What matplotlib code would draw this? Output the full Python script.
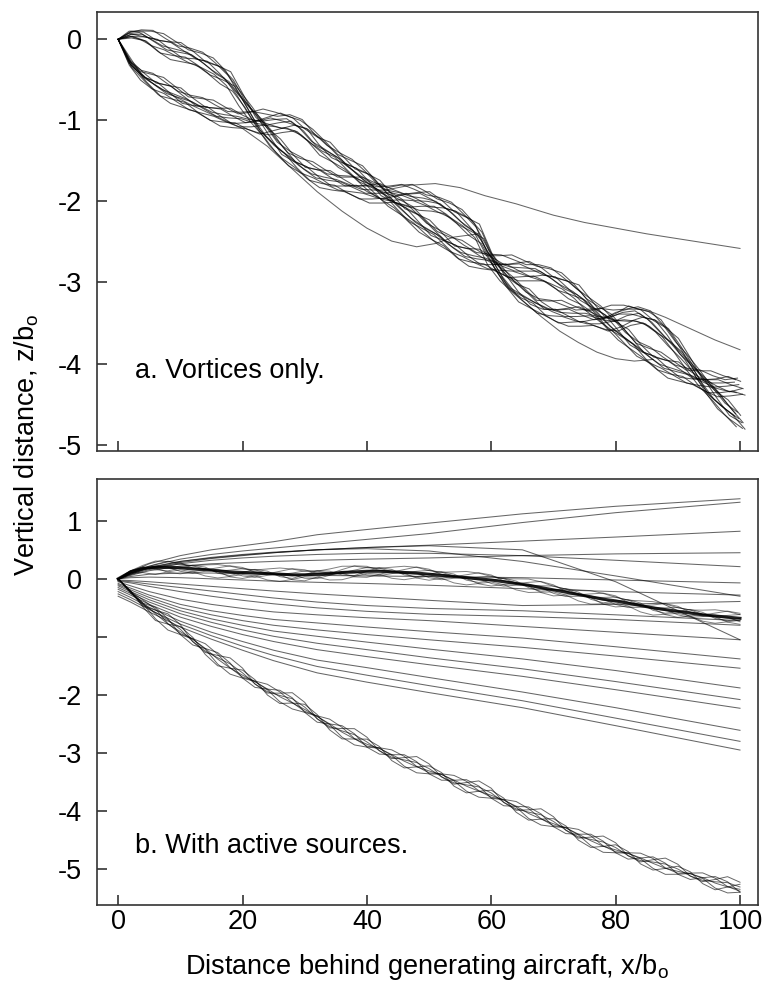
import numpy as np
import matplotlib
matplotlib.use("Agg")
import matplotlib.pyplot as plt

plt.rcParams['font.family'] = ['Liberation Sans', 'DejaVu Sans']
plt.rcParams['mathtext.fontset'] = 'custom'
plt.rcParams['mathtext.rm'] = 'Liberation Sans'
plt.rcParams['mathtext.it'] = 'Liberation Sans'

# ---------------- data ----------------
X_GRID = np.arange(0, 101, 2)

# panel a: two braided vortex strands (centre paths)
STRAND_A = [0.00, 0.06, 0.05, -0.02, -0.09, -0.15, -0.21, -0.29, -0.39, -0.51,
            -0.74, -0.97, -1.16, -1.34, -1.48, -1.59, -1.67, -1.73, -1.78, -1.82,
            -1.86, -1.89, -1.91, -1.92, -1.95, -1.99, -2.05, -2.14, -2.26, -2.39,
            -2.70, -2.92, -3.08, -3.19, -3.30, -3.35, -3.38, -3.41, -3.43, -3.45,
            -3.44, -3.40, -3.40, -3.48, -3.62, -3.80, -4.00, -4.22, -4.40, -4.56, -4.70]
STRAND_B = [0.00, -0.30, -0.45, -0.55, -0.63, -0.71, -0.79, -0.85, -0.91, -0.96,
            -1.00, -1.02, -1.02, -1.02, -1.03, -1.12, -1.27, -1.38, -1.50, -1.61,
            -1.72, -1.85, -1.98, -2.10, -2.22, -2.34, -2.45, -2.56, -2.64, -2.70,
            -2.75, -2.79, -2.82, -2.85, -2.88, -2.95, -3.04, -3.14, -3.28, -3.42,
            -3.55, -3.69, -3.83, -3.93, -4.02, -4.09, -4.16, -4.21, -4.25, -4.27, -4.28]
BUNDLE_A_DZ = [-0.13, -0.11, -0.06, -0.03, -0.01, 0.01, 0.03, 0.06, 0.10, 0.12]
BUNDLE_A_DX = [0.4, 0.8, -0.6, 0.3, -0.2, 0.5, -0.9, 0.1, -0.4, -0.7]
BUNDLE_A_AMP = [0.03, 0.04, 0.02, 0.05, 0.03, 0.04, 0.02, 0.05, 0.03, 0.04]
BUNDLE_A_PH = [3, 0, 1, 2, 3, 1, 3, 0, 2, 1]
RIPPLE_A = [0.0, 1.0, 0.0, -1.0]

OUT1_X = [36, 40, 43, 47, 51, 55, 59, 64, 70, 75, 80, 85, 90, 95, 100]
OUT1_Z = [-1.52, -1.74, -1.86, -1.80, -1.78, -1.83, -1.93, -2.03, -2.17, -2.26,
          -2.33, -2.40, -2.46, -2.52, -2.58]
OUT2_X = [0, 4, 8, 12, 16, 20, 24, 28, 32, 36, 40, 44, 48, 51, 54, 58]
OUT2_Z = [0.0, -0.47, -0.66, -0.82, -0.96, -1.10, -1.32, -1.60, -1.88, -2.12,
          -2.33, -2.49, -2.56, -2.52, -2.44, -2.40]
OUT3_X = [60, 62, 65, 68, 71, 74, 77, 80, 83, 86]
OUT3_Z = [-2.76, -3.00, -3.22, -3.42, -3.60, -3.74, -3.86, -3.94, -3.97, -3.95]
OUT4_X = [78, 80, 82, 84, 86, 88, 90, 92, 94, 96, 98, 100]
OUT4_Z = [-3.45, -3.37, -3.33, -3.33, -3.37, -3.43, -3.50, -3.57, -3.64, -3.71,
          -3.77, -3.83]

# panel b: bundles
THICK = [0.00, 0.12, 0.18, 0.20, 0.20, 0.19, 0.17, 0.16, 0.14, 0.12, 0.11,
         0.10, 0.09, 0.08, 0.07, 0.07, 0.08, 0.09, 0.11, 0.12, 0.13,
         0.13, 0.12, 0.11, 0.10, 0.08, 0.06, 0.04, 0.02, 0.00, -0.02,
         -0.05, -0.08, -0.11, -0.15, -0.19, -0.23, -0.27, -0.31, -0.35, -0.38,
         -0.42, -0.46, -0.50, -0.53, -0.56, -0.59, -0.62, -0.64, -0.66, -0.68]
LOWER = [0.00, -0.22, -0.42, -0.58, -0.75, -0.90, -1.05, -1.20, -1.36, -1.51, -1.65,
         -1.78, -1.90, -2.01, -2.11, -2.24, -2.38, -2.50, -2.62, -2.73, -2.84,
         -2.93, -3.03, -3.12, -3.21, -3.30, -3.38, -3.47, -3.55, -3.63, -3.72,
         -3.82, -3.92, -4.02, -4.11, -4.21, -4.30, -4.40, -4.49, -4.58, -4.66,
         -4.74, -4.81, -4.88, -4.96, -5.03, -5.09, -5.15, -5.22, -5.28, -5.34]
RIPPLE = [0.0, 0.9, 0.6, -0.6, -0.9]
UP_DZ = [0.0, 0.03, -0.03, 0.05, -0.05, 0.0, 0.08, -0.08]
UP_AMP = [0.02, 0.04, 0.05, 0.06, 0.06, 0.07, 0.03, 0.05]
UP_PH = [0, 1, 3, 2, 4, 0, 3, 1]
LOW_DZ = [-0.06, -0.03, 0.0, 0.0, 0.02, 0.04, -0.01]
LOW_AMP = [0.08, 0.12, 0.05, 0.10, 0.07, 0.12, 0.02]
LOW_PH = [0, 1, 2, 3, 4, 2, 0]

X_FAN = [0, 2, 5, 10, 15, 20, 25, 32, 40, 50, 65, 80, 100]
FAN = {
    'U1': [0.00, 0.12, 0.26, 0.40, 0.50, 0.57, 0.64, 0.76, 0.85, 0.96, 1.12, 1.25, 1.38],
    'U2': [0.00, 0.10, 0.22, 0.34, 0.42, 0.48, 0.53, 0.60, 0.68, 0.78, 0.97, 1.14, 1.32],
    'U3': [0.00, 0.08, 0.19, 0.30, 0.37, 0.42, 0.46, 0.50, 0.54, 0.58, 0.65, 0.72, 0.82],
    'C1': [0.00, 0.09, 0.20, 0.30, 0.36, 0.41, 0.45, 0.50, 0.54, 0.57, 0.50, -0.05, -1.05],
    'C2': [0.00, 0.08, 0.18, 0.28, 0.35, 0.40, 0.45, 0.50, 0.52, 0.48, 0.30, 0.05, -0.30],
    'U4': [0.00, 0.06, 0.14, 0.22, 0.26, 0.28, 0.30, 0.32, 0.34, 0.36, 0.40, 0.43, 0.45],
    'U5': [0.00, 0.07, 0.16, 0.26, 0.32, 0.36, 0.39, 0.42, 0.44, 0.44, 0.40, 0.32, 0.21],
    'M1': [0.00, 0.04, 0.08, 0.10, 0.10, 0.09, 0.08, 0.06, 0.05, 0.04, 0.02, -0.02, -0.07],
    'M2': [0.00, 0.02, 0.03, 0.02, 0.00, -0.02, -0.04, -0.06, -0.08, -0.11, -0.17, -0.22, -0.28],
    'M3': [-0.02, -0.03, -0.05, -0.09, -0.13, -0.17, -0.21, -0.26, -0.31, -0.37, -0.46, -0.44, -0.39],
    'M4': [-0.03, -0.05, -0.09, -0.15, -0.21, -0.27, -0.33, -0.40, -0.46, -0.51, -0.55, -0.62, -0.72],
    'M5': [-0.04, -0.07, -0.13, -0.22, -0.30, -0.37, -0.43, -0.50, -0.56, -0.61, -0.65, -0.70, -0.80],
    'L1': [-0.05, -0.12, -0.22, -0.35, -0.44, -0.51, -0.57, -0.62, -0.67, -0.72, -0.82, -0.92, -1.05],
    'L2': [-0.08, -0.16, -0.28, -0.44, -0.55, -0.63, -0.70, -0.76, -0.83, -0.91, -1.02, -1.17, -1.38],
    'L3': [-0.10, -0.19, -0.32, -0.50, -0.62, -0.72, -0.80, -0.88, -0.96, -1.05, -1.18, -1.33, -1.54],
    'L4': [-0.12, -0.22, -0.36, -0.55, -0.69, -0.80, -0.90, -0.99, -1.09, -1.21, -1.38, -1.58, -1.88],
    'L5': [-0.15, -0.25, -0.40, -0.60, -0.75, -0.88, -0.99, -1.11, -1.22, -1.36, -1.55, -1.77, -2.08],
    'L6': [-0.18, -0.28, -0.44, -0.66, -0.82, -0.96, -1.08, -1.22, -1.34, -1.48, -1.68, -1.91, -2.23],
    'L7': [-0.22, -0.32, -0.49, -0.73, -0.92, -1.08, -1.23, -1.40, -1.53, -1.70, -1.95, -2.22, -2.61],
    'L8': [-0.26, -0.36, -0.53, -0.78, -0.98, -1.16, -1.32, -1.51, -1.66, -1.84, -2.10, -2.40, -2.80],
    'L9': [-0.30, -0.40, -0.57, -0.83, -1.04, -1.23, -1.41, -1.62, -1.78, -1.96, -2.22, -2.53, -2.95],
}

X_TICKS = [0, 20, 40, 60, 80, 100]
X_TICKLABELS = ['0', '20', '40', '60', '80', '100']
A_YTICKS = [0, -1, -2, -3, -4, -5]
A_YTICKLABELS = ['0', '-1', '-2', '-3', '-4', '-5']
B_YTICKS = [1, 0, -1, -2, -3, -4, -5]
B_YTICKLABELS = ['1', '0', '', '-2', '-3', '-4', '-5']

# ---------------- figure ----------------
fig = plt.figure(figsize=(7.62, 9.99), dpi=100)
axA = fig.add_axes([0.1273, 0.5485, 0.8675, 0.4395])
axB = fig.add_axes([0.1273, 0.0941, 0.8675, 0.4264])

LC = 'black'
FS = 19.5

env = np.clip(X_GRID / 6.0, 0, 1)
idx = np.arange(len(X_GRID))

# panel a
ripA = np.array(RIPPLE_A)
for strand in (STRAND_A, STRAND_B):
    s = np.array(strand)
    for dz, dx, a, ph in zip(BUNDLE_A_DZ, BUNDLE_A_DX, BUNDLE_A_AMP, BUNDLE_A_PH):
        axA.plot(X_GRID + dx * env, s + (dz + a * ripA[(idx + ph) % 4]) * env,
                 color=LC, lw=0.75, alpha=0.65)
for ox, oz in ((OUT1_X, OUT1_Z), (OUT2_X, OUT2_Z), (OUT3_X, OUT3_Z), (OUT4_X, OUT4_Z)):
    axA.plot(ox, oz, color=LC, lw=0.75, alpha=0.6)

# panel b
rip = np.array(RIPPLE)
for name, vals in FAN.items():
    axB.plot(X_FAN, vals, color=LC, lw=0.75, alpha=0.6)
thick = np.array(THICK)
for dz, a, ph in zip(UP_DZ, UP_AMP, UP_PH):
    axB.plot(X_GRID, thick + (dz + a * rip[(idx + ph) % 5]) * env, color=LC, lw=0.7, alpha=0.5)
axB.plot(X_GRID, thick, color=LC, lw=2.2, alpha=0.85)
low = np.array(LOWER)
for dz, a, ph in zip(LOW_DZ, LOW_AMP, LOW_PH):
    axB.plot(X_GRID, low + (dz + a * rip[(idx + ph) % 5]) * env, color=LC, lw=0.7, alpha=0.6)

# axes styling
for ax in (axA, axB):
    ax.set_xlim(-3.4, 102.9)
    ax.set_xticks(X_TICKS)
    for sp in ax.spines.values():
        sp.set_linewidth(1.2)
        sp.set_color('#333333')
    ax.tick_params(direction='in', length=7, width=1.2, color='#333333',
                   labelsize=FS, top=False, right=False)
    ax.tick_params(axis='y', pad=11)
    ax.tick_params(axis='x', pad=3)

axA.set_ylim(-5.08, 0.337)
axA.set_yticks(A_YTICKS)
axA.set_yticklabels(A_YTICKLABELS)
axA.set_xticklabels([])
axB.set_ylim(-5.62, 1.72)
axB.set_yticks(B_YTICKS)
axB.set_yticklabels(B_YTICKLABELS)
axB.set_xticklabels(X_TICKLABELS)

axA.text(2.7, -4.09, 'a. Vortices only.', fontsize=FS, va='center', ha='left')
axB.text(2.7, -4.60, 'b. With active sources.', fontsize=FS, va='center', ha='left')

fig.text(0.035, 1 - 445 / 999, r'Vertical distance, z/b$_{\rm o}$', rotation=90,
         fontsize=FS, va='center', ha='center')
fig.text(0.560, 1 - 967 / 999, r'Distance behind generating aircraft, x/b$_{\rm o}$',
         fontsize=FS, va='center', ha='center')

fig.savefig('out.png', dpi=100)
